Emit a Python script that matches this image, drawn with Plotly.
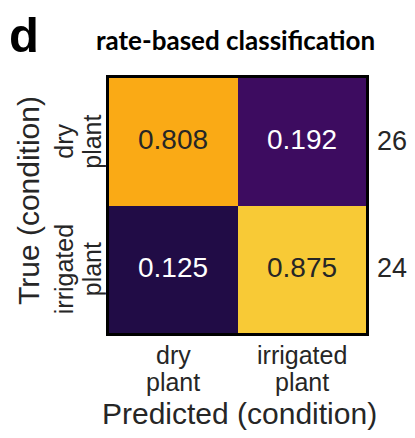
import plotly.graph_objects as go

true_labels = ["dry plant", "irrigated plant"]
pred_labels = ["dry plant", "irrigated plant"]
rates = [[0.808, 0.192],
         [0.125, 0.875]]
counts = [26, 24]
title = "rate-based classification"
panel = "d"

# the page body has an 8 px margin; keep the figure inside the window
OFF = 8
VW, VH = 415, 438
PX0, PX1, PY0, PY1 = 109, 366, 78, 333   # plot area in window pixels
W, H = VW - 2 * OFF, VH - 2 * OFF
L, T = PX0 - OFF, PY0 - OFF
R, B = W - (PX1 - OFF), H - (PY1 - OFF)
pw, ph = PX1 - PX0, PY1 - PY0


def xp(px):
    return (px - PX0) / pw


def yp(py):
    return (PY1 - py) / ph


fig = go.Figure()
fig.add_trace(go.Heatmap(
    z=rates, x=[0, 1], y=[0, 1],
    colorscale="Inferno", zmin=0, zmax=1, showscale=False,
    hoverinfo="skip",
))

font = "Liberation Sans, Arial, sans-serif"
dark = "#262626"
ann = []


def add(**kw):
    kw.setdefault("showarrow", False)
    kw.setdefault("xanchor", "center")
    kw.setdefault("yanchor", "middle")
    ann.append(kw)


for i, row in enumerate(rates):
    for j, v in enumerate(row):
        add(x=j, y=i, xref="x", yref="y", text=f"{v:.3f}", yshift=2,
            font=dict(family=font, size=28,
                      color=dark if v > 0.5 else "white"))
for i, c in enumerate(counts):
    add(x=xp(391.5), y=i, xref="paper", yref="y", text=str(c), yshift=1,
        font=dict(family=font, size=27, color=dark))

# x tick labels (two lines, tight spacing)
for j, lab in enumerate(pred_labels):
    for k, part in enumerate(lab.split(" ")):
        add(x=j, y=yp(355 + 27 * k), xref="x", yref="paper", text=part,
            font=dict(family=font, size=25, color=dark))
# y tick labels (rotated, two lines)
for i, lab in enumerate(true_labels):
    for k, part in enumerate(lab.split(" ")):
        add(x=xp(64 + 28 * k), y=i, xref="paper", yref="y", text=part,
            textangle=-90, font=dict(family=font, size=25, color=dark))

add(x=xp(239), y=yp(413), xref="paper", yref="paper",
    text="Predicted (condition)", font=dict(family=font, size=30, color=dark))
add(x=xp(28), y=yp(201), xref="paper", yref="paper",
    text="True (condition)", textangle=-90,
    font=dict(family=font, size=30, color=dark))
add(x=xp(235), y=yp(40), xref="paper", yref="paper",
    text="<b>" + title + "</b>",
    font=dict(family="Lato, sans-serif", size=26, color="black"))
add(x=xp(23.5), y=yp(35.5), xref="paper", yref="paper",
    text="<b>" + panel + "</b>",
    font=dict(family="Liberation Sans, Arial, sans-serif", size=49,
              color="black"))

fig.update_layout(
    width=W, height=H,
    margin=dict(l=L, r=R, t=T, b=B, pad=0),
    paper_bgcolor="white", plot_bgcolor="white",
    annotations=ann,
    xaxis=dict(range=[-0.5, 1.5], showticklabels=False,
               showgrid=False, zeroline=False, ticks="",
               showline=True, mirror=True, linecolor="black", linewidth=3),
    yaxis=dict(range=[1.5, -0.5], showticklabels=False,
               showgrid=False, zeroline=False, ticks="",
               showline=True, mirror=True, linecolor="black", linewidth=3),
)

fig.write_html("out.html")
